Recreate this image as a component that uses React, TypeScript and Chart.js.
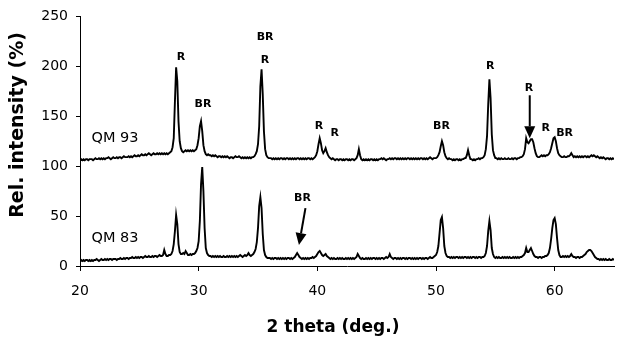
import { useEffect, useRef } from 'react';
import { Chart, registerables } from 'chart.js';

Chart.register(...registerables);

// 2-theta sampling grid: 20.0° to 65.0° in 0.1° steps
const thetaStart = 20;
const thetaStep = 0.1;

// QM 93 trace (rel. intensity %), one row per degree
const qm93 = [
  106, 107, 106, 107, 106, 107, 107, 106, 107, 107,
  107, 106, 107, 108, 107, 107, 108, 107, 108, 107,
  108, 107, 108, 108, 109, 108, 107, 108, 109, 108,
  108, 109, 108, 109, 109, 108, 109, 110, 109, 109,
  109, 110, 109, 110, 109, 110, 111, 110, 110, 111,
  110, 111, 112, 111, 111, 112, 111, 112, 113, 112,
  111, 112, 113, 112, 112, 113, 112, 113, 112, 113,
  112, 113, 112, 113, 112, 113, 114, 115, 119, 128,
  165, 199, 185, 145, 125, 118, 115, 114, 115, 116,
  115, 116, 115, 116, 115, 116, 115, 116, 117, 121,
  128, 140, 145, 135, 121, 115, 112, 111, 112, 111,
  111, 110, 111, 110, 111, 110, 109, 110, 110, 109,
  110, 109, 110, 109, 110, 109, 108, 109, 109, 108,
  109, 110, 109, 109, 110, 109, 108, 109, 108, 109,
  108, 109, 108, 109, 108, 109, 109, 110, 112, 115,
  122, 140, 180, 197, 172, 135, 117, 111, 109, 108,
  108, 108, 107, 108, 107, 108, 107, 108, 107, 108,
  108, 107, 108, 107, 108, 108, 107, 108, 107, 108,
  107, 108, 107, 108, 108, 107, 108, 107, 108, 107,
  108, 107, 108, 108, 107, 108, 107, 108, 109, 111,
  115, 122, 128, 123, 116, 113, 115, 118, 114, 111,
  109, 108, 107, 108, 107, 106, 107, 107, 106, 107,
  107, 106, 107, 106, 107, 107, 106, 107, 106, 107,
  107, 106, 107, 108, 111, 117, 111, 107, 106, 107,
  106, 107, 106, 107, 106, 107, 107, 106, 107, 106,
  107, 106, 107, 107, 108, 107, 108, 107, 106, 107,
  107, 108, 107, 108, 107, 108, 108, 107, 108, 107,
  108, 107, 108, 107, 108, 107, 108, 108, 107, 108,
  107, 108, 107, 108, 107, 108, 107, 108, 108, 107,
  108, 107, 108, 107, 108, 109, 108, 107, 108, 108,
  108, 109, 111, 114, 120, 125, 121, 114, 110, 108,
  107, 108, 107, 107, 106, 107, 106, 107, 107, 106,
  107, 106, 107, 107, 108, 108, 111, 116, 111, 107,
  107, 106, 107, 106, 107, 107, 108, 107, 108, 108,
  109, 111, 117, 130, 162, 187, 168, 132, 116, 111,
  108, 108, 107, 108, 107, 108, 107, 107, 108, 107,
  107, 108, 107, 107, 108, 107, 108, 108, 107, 108,
  108, 109, 109, 110, 112, 117, 128, 124, 123, 125,
  127, 127, 124, 118, 113, 110, 109, 109, 110, 111,
  110, 111, 110, 111, 111, 112, 114, 118, 123, 128,
  129, 125, 118, 113, 111, 110, 109, 109, 110, 109,
  109, 110, 110, 111, 113, 111, 109, 110, 109, 110,
  109, 110, 109, 110, 109, 110, 110, 109, 110, 109,
  110, 111, 110, 111, 110, 109, 110, 109, 108, 109,
  108, 109, 108, 107, 108, 108, 107, 108, 107, 108,
  107,
];

// QM 83 trace (rel. intensity %), one row per degree
const qm83 = [
  5, 6, 5, 6, 5, 6, 6, 5, 6, 5,
  6, 5, 6, 6, 7, 6, 5, 6, 7, 6,
  6, 7, 6, 7, 6, 7, 7, 6, 7, 7,
  7, 6, 7, 7, 8, 7, 7, 8, 7, 8,
  8, 7, 8, 8, 9, 8, 8, 9, 8, 9,
  8, 9, 9, 8, 9, 10, 9, 9, 10, 9,
  9, 10, 9, 10, 10, 9, 10, 11, 10, 10,
  11, 16, 12, 10, 10, 11, 11, 12, 15, 22,
  35, 51, 42, 22, 14, 12, 12, 13, 12, 15,
  13, 11, 11, 12, 11, 12, 12, 13, 15, 18,
  25, 45, 82, 99, 75, 38, 18, 13, 11, 10,
  10, 9, 10, 9, 10, 9, 10, 9, 10, 9,
  9, 10, 9, 9, 10, 9, 10, 9, 10, 9,
  10, 9, 10, 9, 10, 11, 10, 9, 10, 11,
  10, 11, 13, 11, 10, 11, 12, 14, 17, 24,
  38, 60, 69, 58, 32, 16, 11, 9, 8, 8,
  8, 7, 8, 7, 8, 8, 7, 8, 7, 8,
  7, 8, 7, 8, 7, 8, 8, 7, 8, 7,
  8, 9, 11, 13, 11, 9, 8, 7, 8, 7,
  8, 7, 8, 7, 8, 8, 9, 8, 9, 10,
  12, 14, 15, 13, 11, 10, 11, 12, 10, 9,
  8, 7, 8, 7, 8, 7, 7, 8, 7, 8,
  7, 8, 7, 7, 8, 7, 8, 7, 8, 7,
  8, 7, 8, 9, 12, 10, 8, 7, 8, 7,
  7, 8, 7, 8, 7, 8, 7, 8, 8, 7,
  8, 7, 8, 7, 8, 8, 7, 8, 9, 8,
  9, 12, 9, 8, 7, 8, 8, 7, 8, 7,
  8, 7, 8, 8, 7, 8, 7, 8, 8, 7,
  8, 7, 8, 7, 8, 7, 8, 8, 7, 8,
  7, 8, 8, 7, 8, 9, 8, 8, 9, 10,
  11, 14, 20, 33, 46, 49, 38, 20, 13, 10,
  9, 9, 8, 9, 8, 9, 8, 9, 9, 8,
  9, 8, 9, 8, 9, 9, 8, 9, 8, 9,
  8, 9, 9, 8, 9, 8, 9, 9, 8, 9,
  9, 10, 13, 20, 35, 45, 36, 18, 12, 9,
  8, 9, 8, 9, 8, 8, 9, 8, 9, 8,
  9, 8, 9, 8, 8, 9, 8, 9, 8, 9,
  8, 9, 9, 10, 11, 13, 18, 14, 14, 16,
  18, 15, 12, 10, 9, 9, 8, 9, 9, 8,
  9, 9, 10, 10, 11, 13, 18, 27, 38, 46,
  48, 42, 28, 16, 11, 9, 9, 10, 9, 10,
  9, 10, 9, 10, 12, 10, 9, 9, 8, 9,
  9, 8, 9, 9, 10, 11, 12, 14, 15, 16,
  16, 15, 13, 11, 9, 8, 7, 7, 6, 7,
  6, 7, 6, 7, 6, 6, 7, 6, 6, 7,
  6,
];

const xTicks = [20, 30, 40, 50, 60];
const yTicks = [0, 50, 100, 150, 200, 250];

// Peak labels, anchored at (2theta, intensity)
const peakLabels = [
  { text: 'R', x: 28.5, y: 209 },
  { text: 'BR', x: 30.36, y: 162 },
  { text: 'BR', x: 35.6, y: 229 },
  { text: 'R', x: 35.58, y: 206 },
  { text: 'R', x: 40.13, y: 140 },
  { text: 'R', x: 41.47, y: 133 },
  { text: 'BR', x: 50.46, y: 140 },
  { text: 'R', x: 54.58, y: 200 },
  { text: 'R', x: 57.84, y: 178 },
  { text: 'R', x: 59.24, y: 138 },
  { text: 'BR', x: 60.84, y: 133 },
  { text: 'BR', x: 38.75, y: 68 },
];

const sampleLabels = [
  { text: 'QM 93', x: 22.95, y: 128 },
  { text: 'QM 83', x: 22.95, y: 28 },
];

// Arrows: from (x0,y0) to tip (x1,y1), in data units
const arrows = [
  { x0: 57.9, y0: 171, x1: 57.9, y1: 128 },
  { x0: 39.0, y0: 58, x1: 38.45, y1: 21 },
];

const FONT = '"DejaVu Sans", sans-serif';

const toPoints = (vals: number[]) =>
  vals.map((v, i) => ({ x: Math.round((thetaStart + i * thetaStep) * 10) / 10, y: v }));

const annotPlugin = {
  id: 'annot',
  afterDatasetsDraw(chart: any) {
    const { ctx, scales } = chart;
    const xs = scales.x;
    const ys = scales.y;
    ctx.save();
    ctx.fillStyle = '#000';
    ctx.strokeStyle = '#000';
    ctx.textAlign = 'center';
    ctx.textBaseline = 'middle';
    ctx.font = `bold 11px ${FONT}`;
    peakLabels.forEach((l) => {
      ctx.fillText(l.text, xs.getPixelForValue(l.x), ys.getPixelForValue(l.y));
    });
    ctx.font = `14.5px ${FONT}`;
    sampleLabels.forEach((l) => {
      ctx.fillText(l.text, xs.getPixelForValue(l.x), ys.getPixelForValue(l.y));
    });
    arrows.forEach((a) => {
      const px0 = xs.getPixelForValue(a.x0);
      const py0 = ys.getPixelForValue(a.y0);
      const px1 = xs.getPixelForValue(a.x1);
      const py1 = ys.getPixelForValue(a.y1);
      const dx = px1 - px0;
      const dy = py1 - py0;
      const len = Math.hypot(dx, dy);
      const ux = dx / len;
      const uy = dy / len;
      const headLen = 12;
      const headW = 5.5;
      const bx = px1 - ux * headLen;
      const by = py1 - uy * headLen;
      ctx.lineWidth = 2;
      ctx.beginPath();
      ctx.moveTo(px0, py0);
      ctx.lineTo(bx, by);
      ctx.stroke();
      ctx.beginPath();
      ctx.moveTo(px1, py1);
      ctx.lineTo(bx - uy * headW, by + ux * headW);
      ctx.lineTo(bx + uy * headW, by - ux * headW);
      ctx.closePath();
      ctx.fill();
    });
    // axis titles
    ctx.font = `bold 17px ${FONT}`;
    ctx.textBaseline = 'alphabetic';
    ctx.fillText('2 theta (deg.)', 333, 332);
    ctx.translate(18, 125);
    ctx.rotate(-Math.PI / 2);
    ctx.textBaseline = 'middle';
    ctx.font = `bold 19px ${FONT}`;
    ctx.fillText('Rel. intensity (%)', 0, 0);
    ctx.restore();
  },
};

export default function App() {
  const ref = useRef<HTMLCanvasElement | null>(null);
  useEffect(() => {
    if (!ref.current) return;
    const chart = new Chart(ref.current, {
      type: 'line',
      data: {
        datasets: [
          {
            label: 'QM 93',
            data: toPoints(qm93),
            borderColor: '#000',
            borderWidth: 1.9,
            pointRadius: 0,
            fill: false,
            tension: 0,
          },
          {
            label: 'QM 83',
            data: toPoints(qm83),
            borderColor: '#000',
            borderWidth: 1.9,
            pointRadius: 0,
            fill: false,
            tension: 0,
          },
        ],
      },
      options: {
        animation: false,
        responsive: false,
        layout: { padding: { top: 16, right: 5, left: 0, bottom: 0 } },
        plugins: { legend: { display: false }, tooltip: { enabled: false } },
        scales: {
          x: {
            type: 'linear',
            min: 20,
            max: 65,
            afterBuildTicks: (s: any) => {
              s.ticks = xTicks.map((v) => ({ value: v }));
            },
            afterFit: (s: any) => {
              s.height = 75;
            },
            grid: { drawOnChartArea: false, tickLength: 5, color: '#000' },
            border: { color: '#000', width: 1 },
            ticks: {
              font: { family: FONT, size: 14 },
              color: '#000',
              padding: 12,
              maxRotation: 0,
              autoSkip: false,
            },
          },
          y: {
            type: 'linear',
            min: 0,
            max: 250,
            afterBuildTicks: (s: any) => {
              s.ticks = yTicks.map((v) => ({ value: v }));
            },
            afterFit: (s: any) => {
              s.width = 80;
            },
            grid: { drawOnChartArea: false, tickLength: 4, color: '#000' },
            border: { color: '#000', width: 1 },
            ticks: {
              font: { family: FONT, size: 14 },
              color: '#000',
              padding: 8,
            },
          },
        },
      },
      plugins: [annotPlugin],
    });
    return () => chart.destroy();
  }, []);
  return (
    <div style={{ position: 'fixed', left: 0, top: 0, width: 619, height: 341, background: '#fff' }}>
      <canvas ref={ref} width={619} height={341} />
    </div>
  );
}
